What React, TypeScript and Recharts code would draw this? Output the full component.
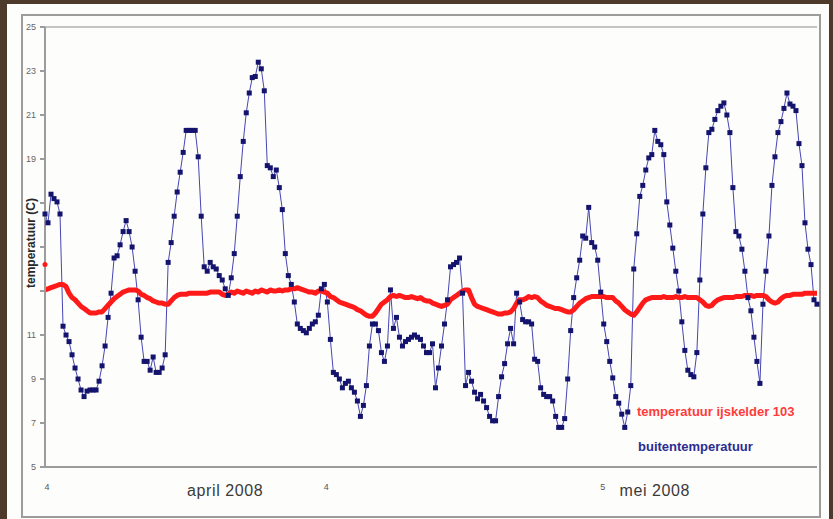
import React from 'react';
import { LineChart, Line, XAxis, YAxis, ReferenceLine } from 'recharts';

const buiten: number[] = [
  16.5, 16.1, 17.4, 17.2, 17.05, 16.5, 11.4, 11.0, 10.7, 10.1,
  9.5, 9.0, 8.5, 8.2, 8.45, 8.5, 8.5, 8.5, 8.9, 9.6,
  10.5, 11.8, 12.9, 14.5, 14.6, 15.1, 15.7, 16.2, 15.7, 15.0,
  13.9, 12.6, 10.9, 9.8, 9.8, 9.4, 10.0, 9.3, 9.3, 9.5,
  10.1, 14.3, 15.2, 16.4, 17.5, 18.4, 19.3, 20.3, 20.3, 20.3,
  20.3, 19.1, 16.4, 14.1, 13.9, 14.3, 14.1, 14.0, 13.7, 13.5,
  13.1, 12.8, 13.6, 14.7, 16.4, 18.2, 19.8, 21.1, 22.0, 22.7,
  22.75, 23.4, 23.1, 22.1, 18.7, 18.6, 18.2, 18.5, 17.7, 16.7,
  14.7, 13.7, 13.3, 12.5, 11.5, 11.3, 11.2, 11.1, 11.3, 11.5,
  11.6, 11.9, 13.1, 13.3, 12.5, 10.8, 9.3, 9.2, 9.0, 8.6,
  8.8, 8.9, 8.6, 8.4, 8.0, 7.3, 7.8, 8.7, 10.5, 11.5,
  11.5, 11.2, 10.2, 9.8, 10.5, 13.05, 11.3, 11.8, 10.9, 10.5,
  10.7, 10.8, 10.9, 11.0, 10.9, 10.8, 10.5, 10.2, 10.2, 10.6,
  8.6, 9.5, 10.5, 11.5, 12.6, 14.1, 14.2, 14.3, 14.5, 12.9,
  8.7, 9.3, 8.9, 8.4, 8.1, 8.3, 8.0, 7.7, 7.3, 7.1,
  7.1, 8.2, 9.1, 9.7, 10.6, 11.3, 10.6, 12.9, 12.5, 11.7,
  11.6, 11.6, 11.5, 9.9, 9.8, 8.6, 8.3, 8.2, 8.2, 8.0,
  7.3, 6.8, 6.8, 7.2, 9.0, 11.2, 12.7, 13.6, 14.4, 15.5,
  15.4, 16.8, 15.2, 15.0, 14.4, 12.95, 11.5, 10.7, 9.8, 9.05,
  8.2, 7.9, 7.4, 6.8, 7.5, 8.7, 14.0, 15.6, 17.3, 17.8,
  18.5, 19.05, 19.2, 20.3, 19.8, 19.65, 19.2, 17.05, 16.0, 14.95,
  13.9, 13.0, 11.6, 10.3, 9.4, 9.2, 9.1, 10.2, 13.5, 16.5,
  18.6, 20.2, 20.35, 20.8, 21.2, 21.4, 21.55, 21.0, 20.2, 17.7,
  15.7, 15.5, 14.9, 13.9, 12.7, 12.1, 10.9, 9.8, 8.8, 12.4,
  13.9, 15.5, 17.8, 19.1, 20.2, 20.7, 21.3, 22.0, 21.5, 21.4,
  21.2, 19.7, 18.7, 16.1, 14.9, 14.2, 12.6, 12.4,
];

// temperatuur ijskelder 103
const kelder: number[] = [
  13.05, 13.1, 13.15, 13.2, 13.25, 13.3, 13.3, 13.2, 12.9, 12.7,
  12.6, 12.45, 12.3, 12.2, 12.1, 12.0, 12.0, 12.0, 12.05, 12.05,
  12.2, 12.35, 12.5, 12.65, 12.75, 12.85, 12.95, 13.0, 13.05, 13.05,
  13.05, 13.0, 12.85, 12.8, 12.7, 12.65, 12.55, 12.5, 12.45, 12.45,
  12.4, 12.4, 12.55, 12.7, 12.8, 12.85, 12.85, 12.85, 12.9, 12.9,
  12.9, 12.9, 12.9, 12.9, 12.9, 12.95, 12.95, 12.95, 12.95, 12.85,
  12.8, 12.85, 12.95, 12.9, 13.0, 12.95, 12.9, 13.0, 12.95, 12.9,
  13.0, 12.95, 13.05, 13.0, 12.95, 13.05, 13.0, 13.0, 13.05, 13.0,
  13.05, 13.05, 13.1, 13.1, 13.15, 13.1, 13.05, 13.0, 12.95, 12.95,
  12.9, 13.0, 13.0, 12.95, 12.9, 12.75, 12.7, 12.6, 12.5, 12.45,
  12.4, 12.35, 12.3, 12.25, 12.15, 12.1, 12.0, 11.9, 11.85, 11.85,
  12.0, 12.2, 12.4, 12.5, 12.6, 12.75, 12.8, 12.75, 12.8, 12.75,
  12.7, 12.7, 12.75, 12.7, 12.65, 12.7, 12.6, 12.55, 12.55, 12.45,
  12.4, 12.35, 12.3, 12.35, 12.4, 12.6, 12.7, 12.8, 12.9, 13.0,
  13.05, 13.05, 12.7, 12.4, 12.3, 12.25, 12.2, 12.15, 12.1, 12.05,
  12.0, 11.95, 11.95, 12.0, 12.0, 12.05, 12.2, 12.45, 12.6, 12.6,
  12.65, 12.75, 12.7, 12.75, 12.7, 12.55, 12.45, 12.35, 12.3, 12.25,
  12.2, 12.2, 12.15, 12.1, 12.05, 12.05, 12.15, 12.3, 12.45, 12.55,
  12.65, 12.7, 12.75, 12.75, 12.75, 12.75, 12.75, 12.7, 12.7, 12.7,
  12.55, 12.45, 12.3, 12.15, 12.05, 11.95, 11.9, 12.05, 12.25, 12.45,
  12.6, 12.65, 12.7, 12.7, 12.7, 12.7, 12.75, 12.7, 12.7, 12.7,
  12.75, 12.7, 12.7, 12.75, 12.7, 12.7, 12.7, 12.7, 12.6, 12.5,
  12.35, 12.3, 12.35, 12.5, 12.6, 12.65, 12.7, 12.7, 12.7, 12.7,
  12.75, 12.75, 12.75, 12.8, 12.8, 12.8, 12.75, 12.8, 12.8, 12.8,
  12.75, 12.6, 12.5, 12.45, 12.5, 12.65, 12.75, 12.8, 12.8, 12.85,
  12.85, 12.85, 12.85, 12.9, 12.9, 12.9, 12.9, 12.9,
];

// losse eerste meting kelder (punt boven de lijn)
const kelderEersteMeting = 14.2;

const yTicks = [5, 7, 9, 11, 13, 15, 17, 19, 21, 23, 25];
const yVerborgen = [13, 15, 17]; // vallen onder de astitel

const dagIndex = [0, 93, 185];
const dagLabels = ['4', '4', '5'];
const maandIndex = [60, 203];
const maandLabels = ['april 2008', 'mei 2008'];

const data = buiten.map((v, i) => ({
  i,
  buiten: v,
  kelder: kelder[i],
  losse: i === 0 ? kelderEersteMeting : undefined,
}));

const FONT = '"Liberation Sans", Arial, sans-serif';

const SquareDot = (props: any) => {
  const { cx, cy, index } = props;
  if (cx == null || cy == null) return null;
  return <rect key={index} x={cx - 2.5} y={cy - 2.5} width={5} height={5} fill="#14146e" />;
};

const XTick = (props: any) => {
  const { x, y, payload } = props;
  const d = dagIndex.indexOf(payload.value);
  if (d >= 0) {
    return (
      <text x={x + 2} y={y + 23} textAnchor="middle" fontSize={9} fill="#555" fontFamily={FONT}>
        {dagLabels[d]}
      </text>
    );
  }
  const m = maandIndex.indexOf(payload.value);
  if (m >= 0) {
    return (
      <text x={x} y={y + 29} textAnchor="middle" fontSize={16} fill="#3a3a3a" fontFamily={FONT} letterSpacing={0.6}>
        {maandLabels[m]}
      </text>
    );
  }
  return null;
};

const App: React.FC = () => {
  return (
    <div style={{ position: 'absolute', left: 0, top: 0, width: 833, height: 519, background: '#4e3a2a', overflow: 'hidden' }}>
      <div style={{ position: 'absolute', left: 7, top: 4, width: 822, height: 515, background: '#fdfdfb' }} />
      <div
        style={{
          position: 'absolute',
          left: 21,
          top: 14,
          width: 796,
          height: 500,
          border: '2px solid #9c9c9c',
        }}
      />
      <div style={{ position: 'absolute', left: 0, top: 0 }}>
        <LineChart width={833} height={519} data={data} margin={{ top: 27, right: 16, bottom: 0, left: 0 }}>
          <XAxis
            dataKey="i"
            type="number"
            domain={[0, buiten.length - 1]}
            ticks={[...dagIndex, ...maandIndex]}
            tick={<XTick />}
            tickLine={false}
            tickSize={0}
            tickMargin={0}
            height={52}
            stroke="#9c9c9c"
            strokeWidth={2}
            interval={0}
          />
          <YAxis
            domain={[5, 25]}
            ticks={yTicks}
            width={45}
            stroke="#9c9c9c"
            strokeWidth={2}
            tickSize={5}
            tickMargin={4}
            tick={{ fontSize: 9, fill: '#666', fontFamily: FONT }}
            tickFormatter={(v: number) => (yVerborgen.includes(v) ? '' : String(v))}
            interval={0}
          />
          <ReferenceLine y={25} stroke="#b0b0b0" strokeWidth={1.5} />
          <Line
            dataKey="buiten"
            name="buitentemperatuur"
            stroke="#4646b4"
            strokeWidth={1}
            dot={<SquareDot />}
            activeDot={false}
            isAnimationActive={false}
          />
          <Line
            dataKey="kelder"
            name="temperatuur ijskelder 103"
            stroke="#ff1a1a"
            strokeWidth={5}
            strokeLinejoin="round"
            dot={false}
            activeDot={false}
            isAnimationActive={false}
          />
          <Line
            dataKey="losse"
            stroke="#ff1a1a"
            dot={{ r: 2.5, fill: '#ff1a1a', stroke: 'none' }}
            activeDot={false}
            isAnimationActive={false}
          />
        </LineChart>
      </div>
      <div
        style={{
          position: 'absolute',
          left: 31,
          top: 243,
          transform: 'translate(-50%, -50%) rotate(-90deg)',
          fontFamily: FONT,
          fontSize: 12,
          fontWeight: 'bold',
          color: '#2a2a2a',
          whiteSpace: 'nowrap',
        }}
      >
        temperatuur (C)
      </div>
      <div style={{ position: 'absolute', left: 637, top: 404, fontFamily: FONT, fontSize: 13, fontWeight: 'bold', color: '#ff3b3b', whiteSpace: 'nowrap' }}>
        temperatuur ijskelder 103
      </div>
      <div style={{ position: 'absolute', left: 638, top: 439, fontFamily: FONT, fontSize: 13, fontWeight: 'bold', color: '#2c2c90', whiteSpace: 'nowrap' }}>
        buitentemperatuur
      </div>
    </div>
  );
};

export default App;
